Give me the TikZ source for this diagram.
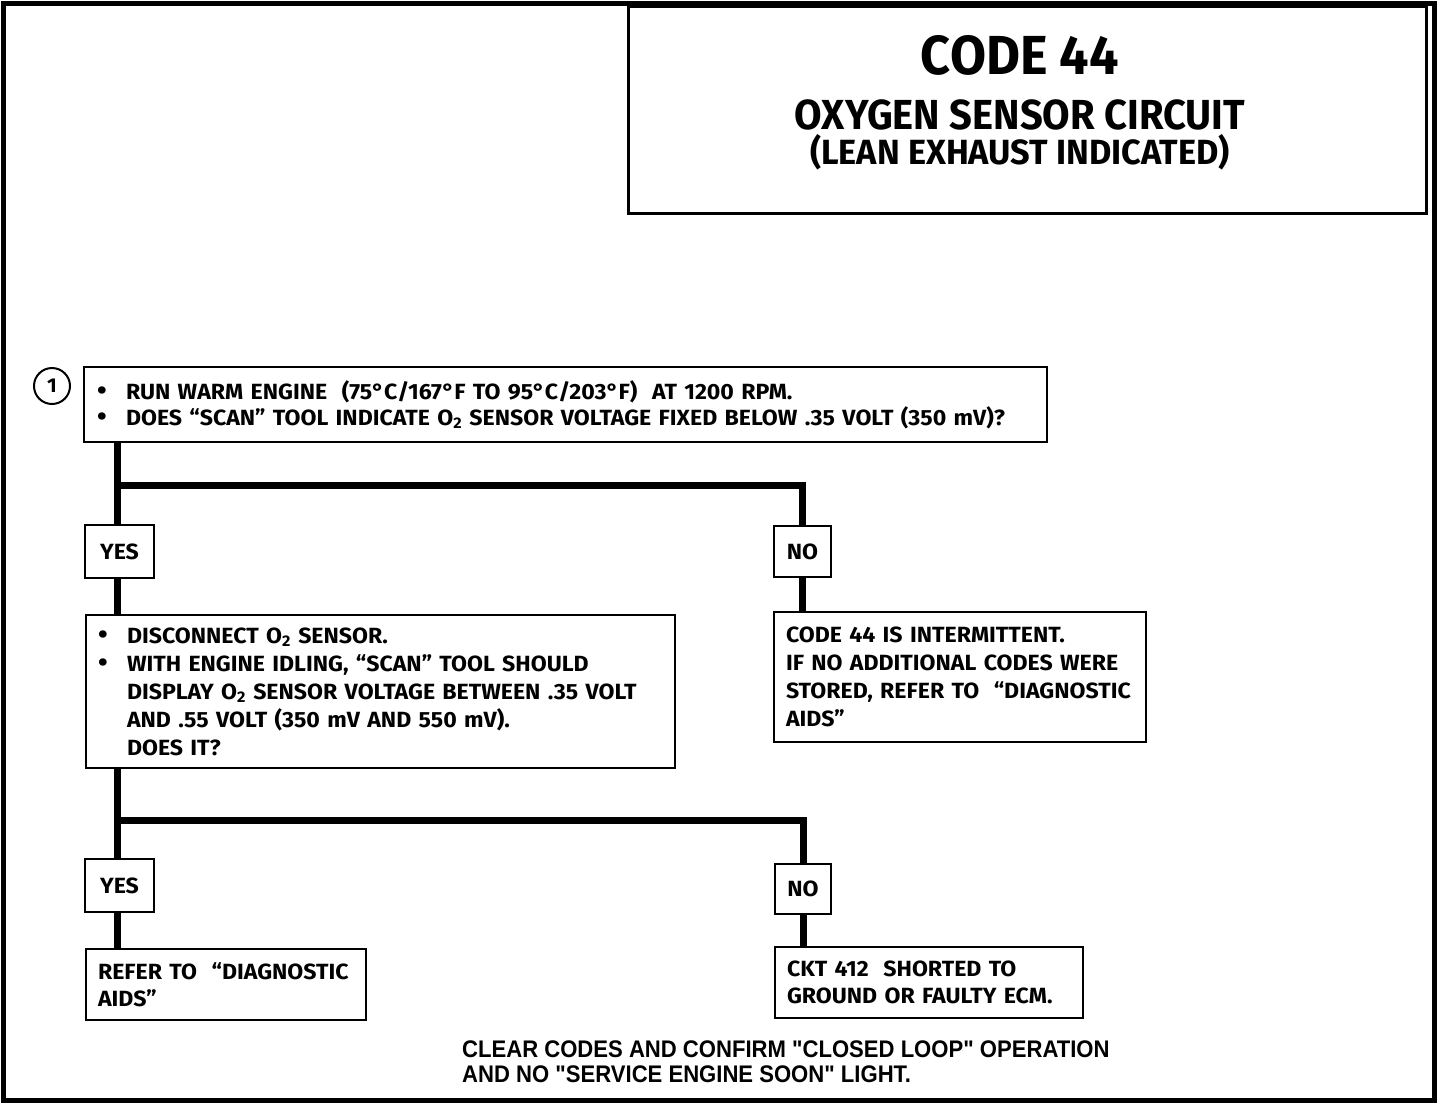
\documentclass[tikz,border=0pt]{standalone}
\usepackage{fontspec}
\setmainfont{Fira Sans}
\newfontfamily\boxfont[FakeStretch=1.05]{Fira Sans}
\newfontfamily\titlefont[FakeStretch=0.95]{Fira Sans}
\newfontfamily\subtitlefont[FakeStretch=0.98]{Fira Sans}
\newfontfamily\notefont[FakeStretch=0.92]{Liberation Sans}
\newcommand{\bul}{\makebox[29pt][l]{\scalebox{1.2}{\textbullet}}}
\newcommand{\ind}{\hspace*{29pt}}
\newcommand{\Otwo}{O\textsubscript{2}}
\begin{document}
\begin{tikzpicture}[x=1pt,y=-1pt,
  txt/.style={font=\boxfont\bfseries\fontsize{22}{28}\selectfont},
  bx/.style={draw, line width=2pt, anchor=north west, inner ysep=0pt, align=left, txt},
  lbl/.style={draw, line width=2pt, anchor=north west, inner sep=0pt, align=center, txt},
  conn/.style={line width=7pt},
]
\useasboundingbox (0,0) rectangle (1456,1104);
\draw[line width=5pt] (3,3) rectangle (1434,1100);
% title
\node[draw, line width=2.5pt, anchor=north west, minimum width=798pt, minimum height=207pt, inner sep=0pt] (title) at (627,5) {};
\node[inner sep=0pt, font=\titlefont\bfseries\fontsize{55}{55}\selectfont] (t1) at (1020,55) {CODE 44};
\node[inner sep=0pt, anchor=base, text height=30pt, text depth=0pt, font=\titlefont\bfseries\fontsize{42}{42}\selectfont] (t2) at (1020,129) {OXYGEN SENSOR CIRCUIT};
\node[inner sep=0pt, anchor=base, text height=26pt, text depth=7pt, font=\subtitlefont\bfseries\fontsize{35}{35}\selectfont] (t3) at (1020,164) {(LEAN EXHAUST INDICATED)};
% step number
\node[draw, circle, line width=2pt, minimum size=36pt, inner sep=0pt, font=\boxfont\bfseries\fontsize{20}{20}\selectfont] (c1) at (52,386) {1};
% boxes
\node[bx, inner xsep=13pt, text width=937pt, minimum height=75pt, font=\boxfont\bfseries\fontsize{22}{26}\selectfont] (b1) at (83,366)
 {\bul RUN WARM ENGINE\ \ (75°C/167°F TO 95°C/203°F)\ \ AT 1200 RPM.\\
  \bul DOES “SCAN” TOOL INDICATE \Otwo\ SENSOR VOLTAGE FIXED BELOW .35 VOLT (350 mV)?};
\node[lbl, minimum width=69pt, minimum height=53pt] (yes1) at (84,524) {YES};
\node[lbl, minimum width=57pt, minimum height=51pt] (no1) at (773,525) {NO};
\node[bx, inner xsep=12pt, text width=565pt, minimum height=153pt] (b2) at (85,614)
 {\bul DISCONNECT \Otwo\ SENSOR.\\
  \bul WITH ENGINE IDLING, “SCAN” TOOL SHOULD\\
  \ind DISPLAY \Otwo\ SENSOR VOLTAGE BETWEEN .35 VOLT\\
  \ind AND .55 VOLT (350 mV AND 550 mV).\\
  \ind DOES IT?};
\node[bx, inner xsep=12pt, text width=348pt, minimum height=130pt] (b3) at (773,611)
 {CODE 44 IS INTERMITTENT.\\
  IF NO ADDITIONAL CODES WERE\\
  STORED, REFER TO\ \ “DIAGNOSTIC\\
  AIDS”};
\node[lbl, minimum width=69pt, minimum height=53pt] (yes2) at (84,858) {YES};
\node[lbl, minimum width=56pt, minimum height=50pt] (no2) at (774,863) {NO};
\node[bx, inner xsep=12pt, text width=256pt, minimum height=71pt, font=\boxfont\bfseries\fontsize{22}{27}\selectfont] (b4) at (85,948)
 {REFER TO\ \ “DIAGNOSTIC\\ AIDS”};
\node[bx, inner xsep=12pt, text width=284pt, minimum height=71pt, font=\boxfont\bfseries\fontsize{22}{27}\selectfont] (b5) at (774,946)
 {CKT 412\ \ SHORTED TO\\ GROUND OR FAULTY ECM.};
\node[anchor=north west, inner sep=0pt, align=left, font=\notefont\bfseries\fontsize{24}{25}\selectfont] (note) at (462,1041)
 {CLEAR CODES AND CONFIRM "CLOSED LOOP" OPERATION\\ AND NO "SERVICE ENGINE SOON" LIGHT.};
% connectors
\coordinate (j1) at (117,485);
\coordinate (j2) at (117,820);
\draw[conn] (b1.south -| j1) -- (j1) -- (j1 |- yes1.north);
\draw[conn] (j1) -| (no1.north);
\draw[conn] (yes1.south -| j1) -- (b2.north -| j1);
\draw[conn] (no1.south) -- (b3.north -| no1.south);
\draw[conn] (b2.south -| j2) -- (j2) -- (j2 |- yes2.north);
\draw[conn] (j2) -| (no2.north);
\draw[conn] (yes2.south -| j2) -- (b4.north -| j2);
\draw[conn] (no2.south) -- (b5.north -| no2.south);
\end{tikzpicture}
\end{document}
